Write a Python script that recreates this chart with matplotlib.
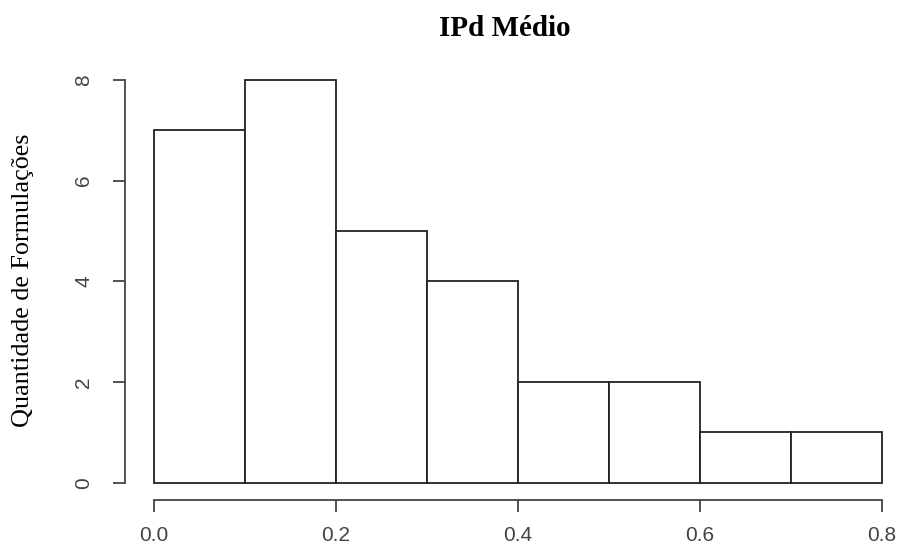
import matplotlib
matplotlib.use("Agg")
import matplotlib.pyplot as plt
import numpy as np

bin_edges = [0.0, 0.1, 0.2, 0.3, 0.4, 0.5, 0.6, 0.7, 0.8]
counts = [7, 8, 5, 4, 2, 2, 1, 1]
x_ticks = [0.0, 0.2, 0.4, 0.6, 0.8]
x_tick_labels = ["0.0", "0.2", "0.4", "0.6", "0.8"]
y_ticks = [0, 2, 4, 6, 8]
title = "IPd Médio"
ylabel = "Quantidade de Formulações"

fig = plt.figure(figsize=(8.99, 5.51), dpi=100)
W, H = 899, 551
left, right = 153.7 / W, 882 / W
bottom, top = 1 - 482.7 / H, 1 - 80 / H
ax = fig.add_axes([left, bottom, right - left, top - bottom])

lefts = np.array(bin_edges[:-1])
widths = np.diff(bin_edges)
bars = ax.bar(lefts, counts, width=widths, align="edge", facecolor="white",
              edgecolor="#222222", linewidth=1.3)
for b in bars:
    b.set_clip_on(False)

ax.set_xlim(0, 0.8)
ax.set_ylim(0, 8)

for s in ["top", "right"]:
    ax.spines[s].set_visible(False)
ax.spines["left"].set_position(("outward", 29 * 0.72))
ax.spines["bottom"].set_position(("outward", 17.3 * 0.72))
ax.spines["left"].set_bounds(0, 8)
ax.spines["bottom"].set_bounds(0, 0.8)
for s in ["left", "bottom"]:
    ax.spines[s].set_color("#444444")
    ax.spines[s].set_linewidth(1.3)

ax.set_xticks(x_ticks)
ax.set_xticklabels(x_tick_labels)
ax.set_yticks(y_ticks)
ax.set_yticklabels([str(v) for v in y_ticks], rotation=90, va="center")
ax.tick_params(axis="both", length=12 * 0.72, width=1.3, color="#444444",
               labelsize=15, labelcolor="#444444")
ax.tick_params(axis="x", pad=10)
ax.tick_params(axis="y", pad=14)
for lab in ax.get_xticklabels() + ax.get_yticklabels():
    lab.set_fontfamily("Liberation Sans")

fig.text(505 / W, 1 - 28 / H, title, ha="center", va="center",
         fontsize=21, fontweight="bold", family="Liberation Serif")
fig.text(23 / W, 1 - 280 / H, ylabel, rotation=90, ha="center",
         va="center", fontsize=18.8, family="Liberation Serif")

fig.savefig("out.png", dpi=100)
